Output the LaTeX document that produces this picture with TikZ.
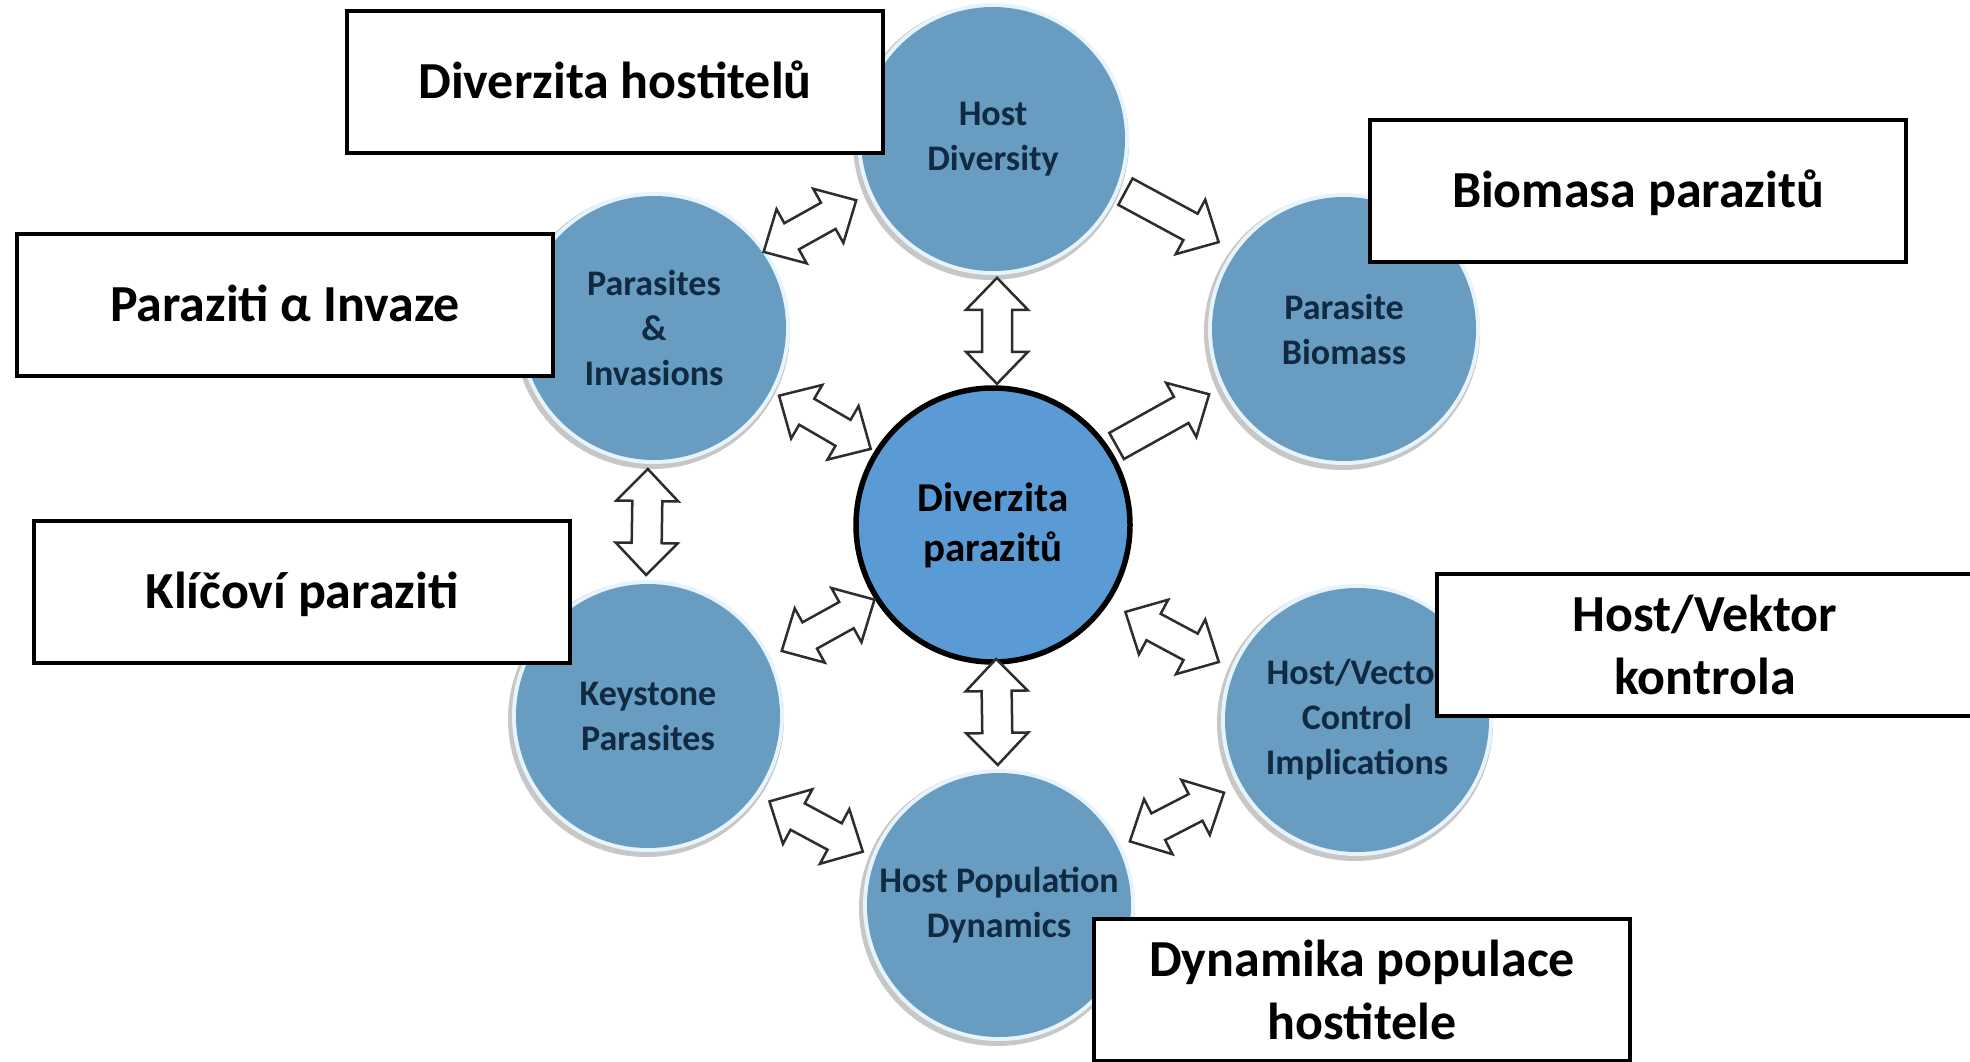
\documentclass[tikz,border=0pt]{standalone}
\usepackage{fontspec}
\setmainfont{Carlito}
\usetikzlibrary{calc}
\definecolor{outerblue}{RGB}{104,156,192}
\definecolor{centerblue}{RGB}{91,155,213}
\definecolor{navytext}{RGB}{16,42,66}
\definecolor{halocol}{RGB}{232,244,251}
\definecolor{arrowline}{RGB}{45,45,45}
\tikzset{
  outer/.style={circle, fill=outerblue, minimum size=264pt, inner sep=0pt,
    align=center, text=navytext, font=\fontsize{36}{45}\selectfont\bfseries,
    preaction={draw=black!22, line width=12pt, transform canvas={shift={(-2pt,-3pt)}}},
    preaction={draw=halocol, line width=8pt}},
  centre/.style={circle, fill=centerblue, draw=black, line width=5.5pt,
    minimum size=274pt, inner sep=0pt, align=center,
    font=\fontsize{41}{50}\selectfont\bfseries},
  lbox/.style={draw=black, line width=4.5pt, fill=white, minimum width=536pt,
    minimum height=142pt, inner sep=0pt, align=center,
    font=\fontsize{52}{63}\selectfont\bfseries},
  oneline/.style={text height=45pt, text depth=12pt},
  blockarr/.style={draw=arrowline, line width=2.5pt, fill=white, line join=miter},
  dblarr/.pic={\path[blockarr] (-53,0) -- (-21,31) -- (-21,15) -- (21,15) -- (21,31)
    -- (53,0) -- (21,-31) -- (21,-15) -- (-21,-15) -- (-21,-31) -- cycle;},
  sglarr/.pic={\path[blockarr] (-53,15) -- (21,15) -- (21,31) -- (53,0)
    -- (21,-31) -- (21,-15) -- (-53,-15) -- cycle;}
}
% #1 pic, #2 from node, #3 to node, #4 fraction, #5 offset
\newcommand\blockconn[5]{%
  \path let \p1=($(#3)-(#2)$), \n1={atan2(\y1,\x1)} in
    ($(#2)!#4!(#3)+(#5)$) pic[rotate=\n1]{#1};}
\begin{document}
\begin{tikzpicture}[x=1pt,y=-1pt]
\useasboundingbox (0,0) rectangle (1970,1062);
\clip (0,0) rectangle (1970,1062);
\fill[white] (0,0) rectangle (1970,1062);

% outer circles
\node[outer] (HD) at (993,139) {Host\\Diversity};
\node[outer] (PI) at (654,328) {Parasites\\\&\\Invasions};
\node[outer] (PB) at (1344,329) {Parasite\\Biomass};
\node[outer] (KP) at (648,716) {Keystone\\Parasites};
\node[outer] (HV) at (1357,720) {Host/Vector\\Control\\Implications};
\node[outer] (HP) at (999,905) {Host Population\\Dynamics};

% centre
\node[centre] (C) at (993,525) {Diverzita\\parazitů};

% block arrows
\blockconn{dblarr}{PI}{HD}{0.46}{0,-15}
\blockconn{sglarr}{HD}{PB}{0.51}{0,-19}
\blockconn{dblarr}{HD}{C}{0.497}{4,0}
\blockconn{dblarr}{PI}{C}{0.504}{0,-5}
\blockconn{sglarr}{C}{PB}{0.484}{0,-10}
\blockconn{dblarr}{PI}{KP}{0.5}{-4,0}
\blockconn{dblarr}{KP}{C}{0.522}{0,9}
\blockconn{dblarr}{C}{HV}{0.492}{0,16}
\blockconn{dblarr}{C}{HP}{0.492}{1,0}
\blockconn{dblarr}{KP}{HP}{0.479}{0,20}
\blockconn{dblarr}{HP}{HV}{0.497}{0,4}

% label boxes
\node[lbox, oneline] (L1) at (615,82) {Diverzita hostitelů};
\node[lbox, oneline] (L2) at (1638,191) {Biomasa parazitů};
\node[lbox, oneline] (L3) at (285,305) {Paraziti α Invaze};
\node[lbox, oneline] (L4) at (302,592) {Klíčoví paraziti};
\node[lbox] (L5) at (1705,645) {Host/Vektor\\kontrola};
\node[lbox] (L6) at (1362,990) {Dynamika populace\\hostitele};
\end{tikzpicture}
\end{document}
